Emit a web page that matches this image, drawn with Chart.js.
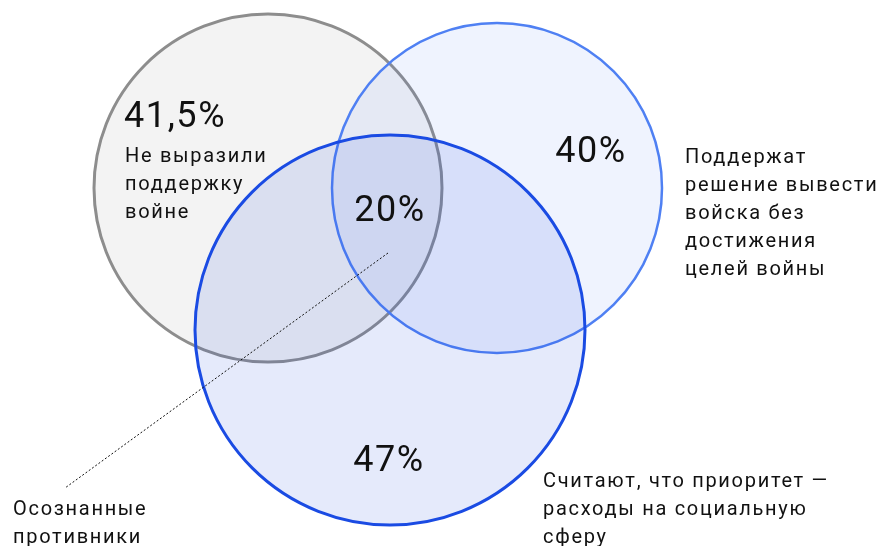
<!DOCTYPE html>
<html lang="ru">

<head>
  <meta charset="UTF-8">
  <title>Венн: отношение к войне</title>
  <script src="https://cdn.jsdelivr.net/npm/chart.js"></script>
  <style>
    html, body { margin: 0; padding: 0; background: #fff; }
    #wrap { width: 885px; height: 546px; }
  </style>
</head>

<body>
  <div id="wrap"><canvas id="venn" width="885" height="546"></canvas></div>

  <script>
    // circles: centre and radius
    const circleNames = ['Не выразили поддержку войне', 'Поддержат вывод войск', 'Приоритет — социальная сфера'];
    const circleX = [268, 497, 390];
    const circleY = [188, 188, 330];
    const circleR = [174, 165, 195];
    const circleFill = ['rgba(120,120,120,0.09)', 'rgba(77,124,245,0.09)', 'rgba(26,71,224,0.115)'];
    const circleLine = ['#8d8d8d', '#4f80f3', '#1a4be3'];

    // big percentages
    const pctText = ['41,5%', '40%', '20%', '47%'];
    const pctX = [124, 591, 390, 389];
    const pctY = [127, 162, 221, 471];
    const pctAlign = ['left', 'center', 'center', 'center'];

    // captions (one entry per block, lines split by |)
    const noteText = [
      'Не выразили|поддержку|войне',
      'Поддержат|решение вывести|войска без|достижения|целей войны',
      'Считают, что приоритет —|расходы на социальную|сферу',
      'Осознанные|противники'
    ];
    const noteX = [125, 685, 543, 13];
    const noteY = [162, 163, 487, 515];

    // leader line to the centre
    const leaderX = [388, 65];
    const leaderY = [253, 488];

    const labelPlugin = {
      id: 'vennLabels',
      afterDatasetsDraw(chart) {
        const ctx = chart.ctx;
        const sx = chart.scales.x, sy = chart.scales.y;
        ctx.save();
        ctx.fillStyle = '#111';
        ctx.textBaseline = 'alphabetic';
        ctx.font = '400 36px Roboto';
        ctx.letterSpacing = '1.6px';
        pctText.forEach((t, i) => {
          ctx.textAlign = pctAlign[i];
          ctx.fillText(t, sx.getPixelForValue(pctX[i]), sy.getPixelForValue(pctY[i]));
        });
        ctx.font = '400 20px Roboto';
        ctx.letterSpacing = '1.7px';
        ctx.textAlign = 'left';
        noteText.forEach((t, i) => {
          t.split('|').forEach((line, k) => {
            ctx.fillText(line, sx.getPixelForValue(noteX[i]), sy.getPixelForValue(noteY[i] + k * 28));
          });
        });
        ctx.restore();
      }
    };

    const bubbleSets = circleNames.map((name, i) => ({
      type: 'bubble',
      label: name,
      data: [{ x: circleX[i], y: circleY[i], r: circleR[i] }],
      backgroundColor: circleFill[i],
      borderColor: circleLine[i],
      borderWidth: i === 1 ? 2.5 : 3,
      hoverRadius: 0,
      order: 3 - i
    }));

    new Chart(document.getElementById('venn'), {
      data: {
        datasets: [{
          type: 'line',
          label: 'Осознанные противники',
          data: leaderX.map((x, i) => ({ x: x, y: leaderY[i] })),
          borderColor: '#111',
          borderWidth: 1,
          borderDash: [2, 2],
          pointRadius: 0,
          order: 0
        }].concat(bubbleSets)
      },
      options: {
        responsive: false,
        animation: false,
        events: [],
        clip: false,
        layout: { padding: 0, autoPadding: false },
        plugins: { legend: { display: false }, tooltip: { enabled: false } },
        scales: {
          x: { type: 'linear', min: 0, max: 885, display: false },
          y: { type: 'linear', min: 0, max: 546, reverse: true, display: false }
        }
      },
      plugins: [labelPlugin]
    });
  </script>
</body>

</html>
